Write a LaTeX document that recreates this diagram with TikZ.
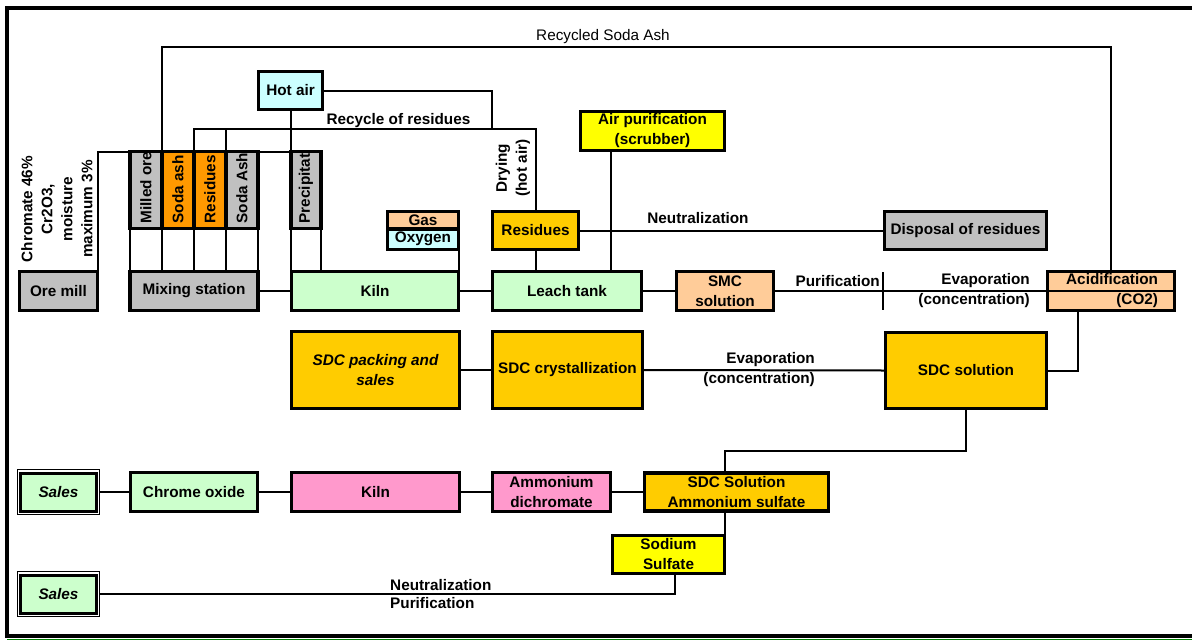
\documentclass[tikz,border=0pt]{standalone}
\usepackage{fontspec}
\setmainfont{Liberation Sans}
\usetikzlibrary{positioning,fit}

\definecolor{boxgray}{HTML}{C0C0C0}
\definecolor{boxorange}{HTML}{FF9900}
\definecolor{boxgreen}{HTML}{CCFFCC}
\definecolor{boxcyan}{HTML}{CCFFFF}
\definecolor{boxpeach}{HTML}{FFCC99}
\definecolor{boxgold}{HTML}{FFCC00}
\definecolor{boxyellow}{HTML}{FFFF00}
\definecolor{boxpink}{HTML}{FF99CC}
\definecolor{rimgreen}{HTML}{008000}

\begin{document}
\begin{tikzpicture}[x=1pt, y=-1pt,
        every node/.style={font=\fontsize{15.3}{20}\selectfont\bfseries},
        box/.style={draw, line width=3.4pt, outer sep=0pt, inner sep=2pt, align=center},
        vbox/.style={draw, line width=3.2pt, outer sep=0pt, minimum width=32pt, minimum height=77pt},
        vtext/.style={rotate=90, anchor=west, inner sep=0pt},
        rim/.style={draw, line width=1pt, inner sep=3.2pt},
        conn/.style={line width=2pt},
        lbl/.style={inner sep=0pt, align=center}]
                \useasboundingbox (0,0) rectangle (1192,641);

                \node[box, fill=boxgray, minimum width=78pt, minimum height=39pt] (oremill) at (58.5,291) {Ore mill};
                \node[box, fill=boxgray, minimum width=128pt, minimum height=39pt] (mixing) at (194,291) {Mixing station};
                \node[box, fill=boxgreen, minimum width=167pt, minimum height=39pt] (kiln) at (375,291) {Kiln};
                \node[box, fill=boxgreen, minimum width=149pt, minimum height=39pt] (leach) at (567,291) {Leach tank};
                \node[box, fill=boxpeach, minimum width=97pt, minimum height=39pt] (smc) at (725,291) {SMC\\solution};
                \node[box, fill=boxpeach, text width=94pt, inner xsep=16.5pt, minimum height=39pt, align=right] (acid) at (1111,291) {Acidification\\(CO2)};
                \node[box, fill=boxcyan, minimum width=64pt, minimum height=38pt] (hotair) at (290.5,90.5) {Hot air};

                \node[vbox, fill=boxgray] (milled) at (146,190) {};
                \node[vbox, fill=boxorange] (sodaash) at (178,190) {};
                \node[vbox, fill=boxorange] (residue) at (210,190) {};
                \node[vbox, fill=boxgray] (sodaashb) at (242,190) {};
                \node[vbox, fill=boxgray, minimum width=30pt] (precip) at (306,190) {};
                \node[vtext] (milledt) at ([yshift=5pt]milled.south) {Milled ore};
                \node[vtext] (sodaasht) at ([yshift=5pt]sodaash.south) {Soda ash};
                \node[vtext] (residuet) at ([yshift=5pt]residue.south) {Residues};
                \node[vtext] (sodaashbt) at ([yshift=5pt]sodaashb.south) {Soda Ash};
                \node[vtext] (precipt) at ([yshift=5pt]precip.south) {Precipitat};

                \node[box, fill=boxpeach, minimum width=71pt, minimum height=17.5pt, inner ysep=0pt] (gas) at (423,220.25) {Gas};
                \node[box, fill=boxcyan, minimum width=71pt, minimum height=20.5pt, inner ysep=0pt, below=0pt of gas] (oxygen) {Oxygen};
                \node[box, fill=boxgold, minimum width=86pt, minimum height=38pt] (residues) at (535.5,230.5) {Residues};
                \node[box, fill=boxyellow, minimum width=144pt, minimum height=39pt] (airpur) at (652.5,131) {Air purification\\(scrubber)};
                \node[box, fill=boxgray, minimum width=162pt, minimum height=38pt] (disposal) at (965.5,230.5) {Disposal of residues};

                \node[box, fill=boxgold, minimum width=168pt, minimum height=77pt, font=\fontsize{15.3}{20}\selectfont\bfseries\itshape] (sdcpack) at (375.5,370) {SDC packing and\\sales};
                \node[box, fill=boxgold, minimum width=150pt, minimum height=77pt] (sdccryst) at (567.5,370) {SDC crystallization};
                \node[box, fill=boxgold, minimum width=161pt, minimum height=76pt] (sdcsol) at (966,370.5) {SDC solution};

                \node[box, fill=boxgreen, minimum width=76pt, minimum height=38pt, line width=3pt, font=\fontsize{15.3}{20}\selectfont\bfseries\itshape] (sales) at (58.5,492) {Sales};
                \node[rim, fit=(sales)] (salesrim) {};
                \node[box, fill=boxgreen, minimum width=127pt, minimum height=39pt] (chromeox) at (194,492) {Chrome oxide};
                \node[box, fill=boxpink, minimum width=168pt, minimum height=39pt] (kilnb) at (375.5,492) {Kiln};
                \node[box, fill=boxpink, minimum width=118pt, minimum height=39pt] (ammdi) at (551.5,492) {Ammonium\\dichromate};
                \node[box, fill=boxgold, minimum width=184pt, minimum height=38pt] (sdcamm) at (736.5,492) {SDC Solution\\Ammonium sulfate};
                \node[box, fill=boxyellow, minimum width=112pt, minimum height=38pt] (sodium) at (668.5,554.5) {Sodium\\Sulfate};
                \node[box, fill=boxgreen, minimum width=76pt, minimum height=38pt, line width=3pt, font=\fontsize{15.3}{20}\selectfont\bfseries\itshape] (salesb) at (58.5,594) {Sales};
                \node[rim, fit=(salesb)] (salesbrim) {};

                \node[lbl, rotate=90] (orelbl) at (57,209) {Chromate 46\%\\Cr2O3,\\moisture\\maximum 3\%};
                \node[lbl, font=\fontsize{15.3}{20}\selectfont\mdseries] (rsalbl) at (603,37) {Recycled Soda Ash};
                \node[lbl] (recylbl) at (398.5,121) {Recycle of residues};
                \node[lbl, rotate=90] (drying) at (513,168) {Drying\\(hot air)};
                \node[lbl] (neutlbl) at (698,218) {Neutralization};
                \node[lbl, anchor=east] (purlbl) at (880,281) {Purification};
                \node[lbl, anchor=east, align=right] (evaplbl) at (1030,291) {Evaporation\\(concentration)};
                \node[lbl, anchor=east, align=right] (evaplblb) at (815,370) {Evaporation\\(concentration)};
                \node[lbl, anchor=west, align=left] (bottomlbl) at (390,594) {Neutralization\\[-2pt]Purification};

                \coordinate (rsa) at (1111,47);
                \coordinate (hotj) at (492,129);
                \coordinate (recy) at (535.5,129);
                \coordinate (tick) at (883,291);
                \coordinate (sdcj) at (725,451);
                \path (airpur.south) ++(-41.5,0) coordinate (airdrop);
                \path (acid.south) ++(-33,0) coordinate (acidout);
                \path (sodium.south) ++(6.5,0) coordinate (sodout);

                \draw[conn] (oremill.north east) |- (milled.north west);
                \draw[conn] (milled.north east) |- (rsa) -- (acid.north);
                \draw[conn] (sodaashb.north east) -- (precip.north west);
                \draw[conn] (hotair.south) -- (hotair.south |- precip.north);
                \draw[conn] (hotair.east) -| (hotj);
                \draw[conn] (residue.north west) |- (recy) -- (residues.north);
                \draw[conn] (residue.north east) -- (residue.north east |- recy);
                \path[conn]
                    (milled.south west) edge (milled.south west |- mixing.north)
                    (milled.south east) edge (milled.south east |- mixing.north)
                    (sodaash.south east) edge (sodaash.south east |- mixing.north)
                    (residue.south east) edge (residue.south east |- mixing.north)
                    (sodaashb.south east) edge (sodaashb.south east |- mixing.north)
                    (precip.south west) edge (precip.south west |- kiln.north)
                    (precip.south east) edge (precip.south east |- kiln.north)
                    ;
                \draw[conn] (oxygen.south east) -- (oxygen.south east |- kiln.north);
                \draw[conn] (mixing.east) -- (kiln.west);
                \draw[conn] (kiln.east) -- (leach.west);
                \draw[conn] (leach.east) -- (smc.west);
                \draw[conn] (smc.east) -- (acid.west);
                \draw[conn] (acid.west) -- (acid.east);
                \draw[conn] ([yshift=19pt]tick) -- ([yshift=-19pt]tick);
                \draw[conn] (residues.south) -- (residues.south |- leach.north);
                \draw[conn] (residues.east) -- (disposal.west);
                \draw[conn] (airdrop) -- (airdrop |- leach.north);

                \draw[conn] (sdcpack.east) -- (sdccryst.west);
                \draw[conn] (sdccryst.east) -- (sdcsol.west);
                \draw[conn] (sdcsol.east) -| (acidout);
                \draw[conn] (sdcsol.south) |- (sdcj) -- (sdcj |- sdcamm.north);

                \draw[conn] (salesrim.east) -- (chromeox.west);
                \draw[conn] (chromeox.east) -- (kilnb.west);
                \draw[conn] (kilnb.east) -- (ammdi.west);
                \draw[conn] (ammdi.east) -- (sdcamm.west);
                \draw[conn] (sdcj |- sdcamm.south) -- (sdcj |- sodium.north);
                \draw[conn] (sodout) |- (salesbrim.east);

                \draw[line width=4pt] (1192,8) -- (7,8) -- (7,636) -- (1192,636);
                \draw[line width=1pt, rimgreen] (7,639.5) -- (1192,639.5);
            \end{tikzpicture}
\end{document}
